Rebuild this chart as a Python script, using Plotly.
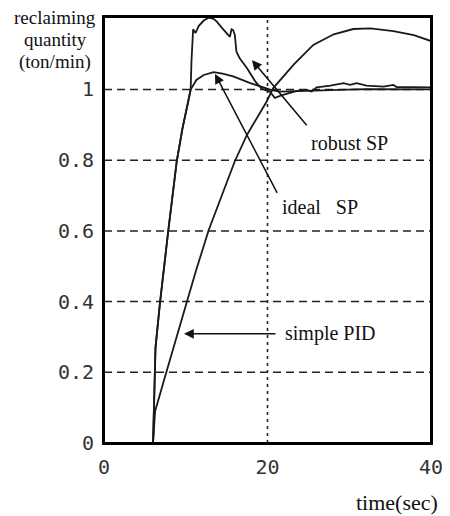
import plotly.graph_objects as go

# ---- data ----
pid_t = [6.0, 6.25, 7.5, 9.0, 10.1, 11.25, 12.8, 14.4, 16.0, 17.5, 19.9, 20.7, 23.2, 25.6,
         28.1, 30.5, 32.6, 35.4, 37.9, 40.0]
pid_v = [0.0, 0.09, 0.19, 0.31, 0.397, 0.487, 0.602, 0.70, 0.797, 0.872, 0.966, 1.004, 1.07, 1.126,
         1.156, 1.171, 1.173, 1.165, 1.154, 1.137]

ideal_t = [6.0, 6.08, 6.2, 6.3, 6.85, 7.26, 7.87, 8.9, 9.6, 10.3, 10.6, 11.3, 12.2, 13.4, 14.5,
           15.8, 17.9, 19.5, 20.5, 21.5, 23.0, 25.0, 28.0, 32.0, 40.0]
ideal_v = [0.0, 0.09, 0.19, 0.27, 0.397, 0.487, 0.602, 0.797, 0.89, 0.966, 1.0, 1.027, 1.041, 1.049, 1.045,
           1.037, 1.018, 1.006, 0.998, 0.994, 0.995, 0.998, 1.0, 1.001, 1.0]

robust_t = [6.0, 6.08, 6.2, 6.3, 6.85, 7.26, 7.87, 8.9, 9.6, 10.3, 10.6, 10.7, 10.9, 11.2, 11.6,
            12.2, 12.8, 13.4, 13.8, 14.4, 15.0, 15.4, 15.6, 15.8, 16.0, 16.2, 16.6, 17.5, 18.5,
            19.3, 20.3, 20.9, 21.9, 23.6, 24.8, 25.4, 26.0, 27.7, 29.3, 30.1, 30.9, 32.1, 34.2,
            35.4, 35.8, 38.3, 40.0]
robust_v = [0.0, 0.09, 0.19, 0.27, 0.397, 0.487, 0.602, 0.797, 0.89, 0.966, 1.0, 1.08, 1.17, 1.16, 1.18,
            1.195, 1.203, 1.2, 1.192, 1.175, 1.159, 1.149, 1.17, 1.168, 1.154, 1.107, 1.088, 1.06, 1.023,
            1.002, 0.994, 0.976, 0.985, 0.996, 0.999, 0.994, 1.006, 1.011, 1.018, 1.013, 1.018, 1.011, 1.008,
            1.013, 1.007, 1.006, 1.006]

x_ticks = [0, 20, 40]
x_tick_labels = ["0", "20", "40"]
y_ticks = [0, 0.2, 0.4, 0.6, 0.8, 1.0]
y_tick_labels = ["0", "0.2", "0.4", "0.6", "0.8", "1"]

curve_names = ["simple PID", "ideal SP", "robust SP"]

# ---- figure ----
line_style = dict(color="#1a1a1a", width=1.8)
fig = go.Figure()
for name, t, v in zip(curve_names, [pid_t, ideal_t, robust_t], [pid_v, ideal_v, robust_v]):
    fig.add_trace(go.Scatter(x=t, y=v, mode="lines", name=name, line=line_style,
                             showlegend=False, hoverinfo="skip"))

serif = "Liberation Serif, Times New Roman, serif"
tick_font = dict(family="DejaVu Sans Mono, monospace", size=20, color="#333333")

# the page body adds an 8px offset, so the figure is 8px smaller on each side
fig.update_layout(
    width=442, height=508,
    margin=dict(l=96, r=19, t=7, b=73),
    paper_bgcolor="white", plot_bgcolor="white",
    xaxis=dict(range=[0, 40], tickvals=x_ticks, ticktext=x_tick_labels, showgrid=False,
               zeroline=False, showline=True, linecolor="black", linewidth=2, mirror=True,
               ticks="outside", ticklen=5, tickcolor="white", tickfont=tick_font),
    yaxis=dict(range=[0, 1.205], tickvals=y_ticks, ticktext=y_tick_labels, showgrid=False,
               zeroline=False, showline=True, linecolor="black", linewidth=2, mirror=True,
               ticks="outside", ticklen=4, tickcolor="white", tickfont=tick_font),
)

# grid lines at the tick positions: dashed horizontals, dotted vertical at the middle tick
for yv in y_ticks[1:]:
    fig.add_shape(type="line", xref="paper", yref="y", x0=0, x1=1, y0=yv, y1=yv,
                  line=dict(color="#222222", width=1.5, dash="8px,5px"), layer="below")
for xv in x_ticks[1:-1]:
    fig.add_shape(type="line", xref="x", yref="paper", x0=xv, x1=xv, y0=0, y1=1,
                  line=dict(color="#222222", width=1.6, dash="3px,4px"), layer="below")

# frame
fig.add_shape(type="rect", xref="paper", yref="paper", x0=0, y0=0, x1=1, y1=1,
              line=dict(color="black", width=2), layer="above")

# axis titles (positions relative to the plot area, 327 x 428 px)
ylab_lines = ["reclaiming", "quantity", "(ton/min)"]
ylab_y = [16, 38, 60]
for txt, py in zip(ylab_lines, ylab_y):
    fig.add_annotation(text=txt, xref="paper", yref="paper",
                       x=(55 - 104) / 327, y=(443 - py) / 428,
                       xanchor="center", yanchor="middle", showarrow=False,
                       font=dict(family=serif, size=19, color="#111111"))
fig.add_annotation(text="time(sec)", xref="paper", yref="paper",
                   x=(440 - 104) / 327, y=(443 - 503) / 428,
                   xanchor="right", yanchor="middle", showarrow=False,
                   font=dict(family=serif, size=22, color="#111111"))

# arrows (tip x,y ; tail ax,ay) in data units
arrows = [
    (18.1, 1.083, 24.95, 0.8945),   # robust SP
    (13.58, 1.044, 21.28, 0.703),   # ideal SP
    (9.79, 0.309, 21.16, 0.309),    # simple PID
]
for x, y, ax, ay in arrows:
    fig.add_annotation(x=x, y=y, ax=ax, ay=ay, xref="x", yref="y", axref="x", ayref="y",
                       text="", showarrow=True, arrowhead=2, arrowsize=1.3,
                       arrowwidth=1.5, arrowcolor="#111111")

labels = [
    ("robust SP", 29.97, 0.8495, "center"),
    ("ideal\u00a0\u00a0\u00a0SP", 26.4, 0.667, "center"),
    ("simple PID", 21.9, 0.309, "left"),
]
for txt, x, y, anchor in labels:
    fig.add_annotation(text=txt, x=x, y=y, xref="x", yref="y", xanchor=anchor,
                       yanchor="middle", showarrow=False,
                       font=dict(family=serif, size=20, color="#111111"))

fig.write_html("out.html")
